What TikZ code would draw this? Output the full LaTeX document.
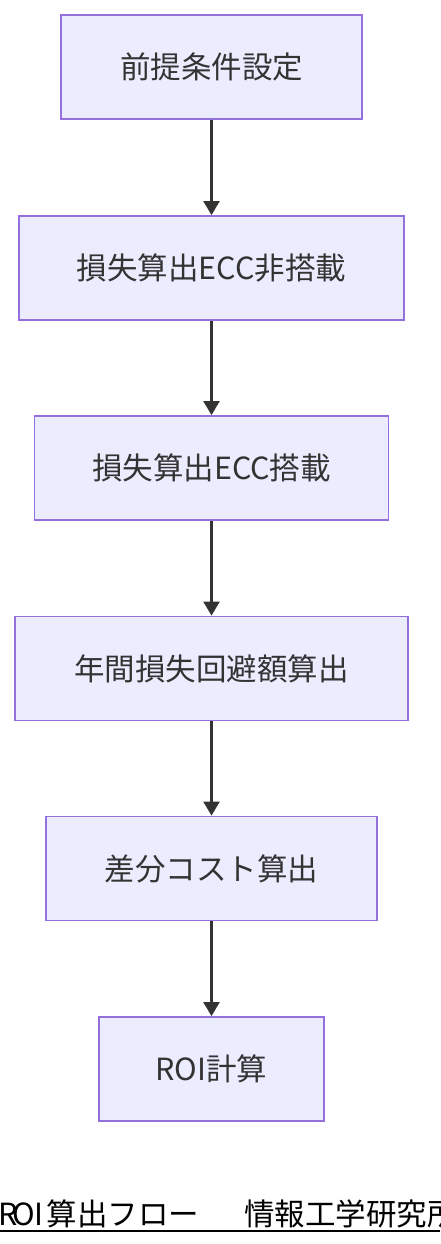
\documentclass[tikz,border=0pt]{standalone}
\usepackage{fontspec}
\usepackage{tikz}
\usetikzlibrary{arrows.meta}
\newfontfamily\jpfont{Noto Sans CJK JP}
\definecolor{boxfill}{HTML}{ECECFF}
\definecolor{boxline}{HTML}{9370DB}
\definecolor{ink}{HTML}{333333}
\newcommand{\monoch}[1]{\makebox[15.5pt]{#1}}

\begin{document}
\begin{tikzpicture}
[x=1pt,y=-1pt,
 stepbox/.style={draw=boxline,fill=boxfill,line width=1.8pt,inner sep=0pt,
   minimum height=104pt,text=ink,font=\jpfont\fontsize{30.5}{36}\selectfont},
 flow/.style={draw=ink,line width=2.2pt,-{Triangle[length=14pt,width=16pt]}}]
\useasboundingbox (0,0) rectangle (440,1244);
\clip (0,0) rectangle (440,1244);

\node[stepbox,minimum width=301pt] (v1) at (211.5,67) {前提条件設定};
\node[stepbox,minimum width=385pt] (v2) at (211.5,268) {損失算出ECC非搭載};
\node[stepbox,minimum width=354pt] (v3) at (211.5,468) {損失算出ECC搭載};
\node[stepbox,minimum width=393pt] (v4) at (211.5,668.5) {年間損失回避額算出};
\node[stepbox,minimum width=331pt] (v5) at (211.5,868.5) {差分コスト算出};
\node[stepbox,minimum width=225pt] (v6) at (211.5,1069) {ROI計算};

\foreach \from/\to in {v1/v2,v2/v3,v3/v4,v4/v5,v5/v6}
\draw[flow] (\from) -- (\to);

% caption
\node[anchor=base west,inner sep=0pt,font=\jpfont\fontsize{30.5}{36}\selectfont] (cap) at (0,1225)
  {\monoch{R}\monoch{O}\monoch{I}算出フロー\hspace{45pt}情報工学研究所};
\draw[line width=2pt] (0,1230.5) -- (440,1230.5);
\end{tikzpicture}
\end{document}
